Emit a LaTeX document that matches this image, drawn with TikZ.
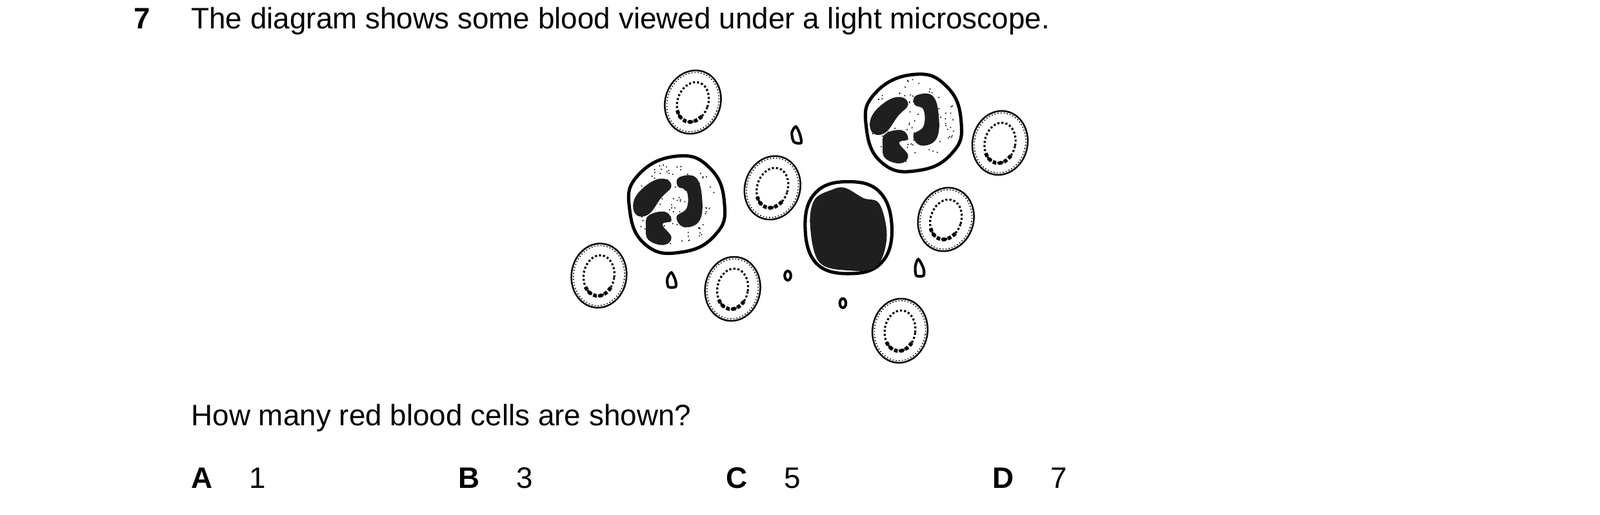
\documentclass[tikz,border=0pt]{standalone}
\usepackage{fontspec}
\setmainfont{Liberation Sans}
\begin{document}
\begin{tikzpicture}[x=0.5pt,y=-0.5pt,
  txt/.style={anchor=base west,inner sep=0pt,font=\fontsize{14.5}{17}\selectfont},
  txb/.style={txt,font=\fontsize{14.5}{17}\selectfont\bfseries},
  rbc/.style={line width=0.8pt},
  ring/.style={line width=1.0pt,densely dotted},
  wbc/.style={line width=1.6pt},
  nuc/.style={fill=black!88,draw=none},
  plt/.style={line width=1.3pt}]
\useasboundingbox (0,0) rectangle (1568,504);
% text
\node[txb] (num) at (131,28) {7};
\node[txt] (q) at (187,28) {The diagram shows some blood viewed under a light microscope.};
\node[txt] (q2) at (187,417) {How many red blood cells are shown?};
\foreach \l/\v/\x in {A/1/187,B/3/449,C/5/711,D/7/972}{
  \node[txb] (opt\l) at (\x,478) {\l};
  \node[txt] (val\l) at (\x+57,478) {\v};
}
% red blood cells
\foreach \cx/\cy/\r in {679/100/-20,980/140/-12,757/184/-18,927/215/-18,587/270/-8,718/283/-10,882/324/-8}{
  \draw[rbc,rotate around={\r:(\cx,\cy)}] (\cx,\cy) ellipse (27 and 31.5);
  \draw[line width=0.5pt,densely dotted,rotate around={\r:(\cx,\cy)}] (\cx,\cy) ellipse (25 and 29.5);
  \draw[ring,rotate around={\r:(\cx,\cy)}] (\cx,\cy) ellipse (15 and 20);
  \draw[line width=1.8pt,densely dotted,rotate around={\r:(\cx,\cy)}] ([shift={(\cx,\cy)}]30:15 and 20) arc (30:140:15 and 20);
}
% neutrophils
\foreach \cx/\cy in {663/200,895/120}{
  \begin{scope}[shift={(\cx,\cy)}]
  \draw[wbc] plot[smooth cycle,tension=0.8] coordinates {(0,-47)(33,-35)(47,0)(38,30)(5,47)(-30,40)(-46,5)(-38,-28)};
  \foreach \i in {1,...,110}{
    \pgfmathsetmacro\a{rnd*360}\pgfmathsetmacro\d{sqrt(rnd)*42}
    \fill ({\d*cos(\a)},{\d*sin(\a)}) circle (0.7);
  }
  \begin{scope}[scale=1.25]
  \fill[nuc] plot[smooth cycle,tension=0.7] coordinates {(-33,-4)(-22,-16)(-10,-20)(-4,-14)(-12,-5)(-22,8)(-32,8)};
  \fill[nuc] plot[smooth cycle,tension=0.7] coordinates {(2,-21)(15,-21)(20,-5)(18,13)(6,18)(0,10)(8,3)(8,-10)(1,-14)};
  \fill[nuc] plot[smooth cycle,tension=0.7] coordinates {(-22,9)(-9,6)(-4,13)(-11,16)(-4,26)(-10,32)(-22,28)(-24,18)};
  \end{scope}
  \end{scope}
}
% lymphocyte
\draw[wbc] plot[smooth cycle,tension=0.7] coordinates {(831,178)(862,188)(874,222)(865,256)(835,268)(800,258)(789,220)(800,188)};
\fill[nuc] plot[smooth cycle,tension=0.6] coordinates {(828,184)(846,194)(862,200)(869,232)(859,261)(832,265)(803,257)(794,222)(798,196)(815,186)};
% platelets
\draw[plt] plot[smooth cycle] coordinates {(780,124)(784,132)(785,140)(778,139)(776,130)};
\draw[plt] plot[smooth cycle] coordinates {(658,267)(662,275)(662,281)(655,281)(654,273)};
\draw[plt] (772,270) ellipse (3 and 4.5);
\draw[plt] (826,297) ellipse (3 and 4.5);
\draw[plt] plot[smooth cycle] coordinates {(900,254)(905,263)(905,270)(898,270)(897,261)};
\end{tikzpicture}
\end{document}
